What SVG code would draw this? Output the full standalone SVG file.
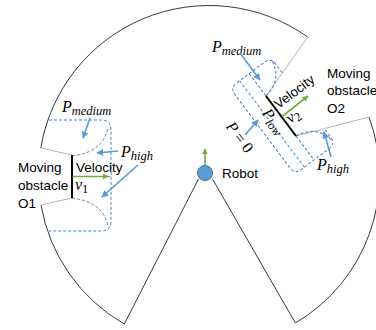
<svg xmlns="http://www.w3.org/2000/svg" width="376" height="330" viewBox="0 0 376 330">
  <defs>
    <marker id="headBlue" viewBox="0 0 10 10" refX="9" refY="5" markerWidth="7" markerHeight="7" markerUnits="userSpaceOnUse" orient="auto">
      <path d="M0,0 L10,5 L0,10 Z" fill="#5B9BD5"/>
    </marker>
    <marker id="headGreen" viewBox="0 0 10 10" refX="9" refY="5" markerWidth="6" markerHeight="6" markerUnits="userSpaceOnUse" orient="auto">
      <path d="M0,0 L10,5 L0,10 Z" fill="#70AD47"/>
    </marker>
  </defs>
  <style>
    .edge { fill: none; stroke: #3a3a3a; stroke-width: 1; }
    .gap { fill: none; stroke: #b4b4b4; stroke-width: 1; }
    .obst { fill: none; stroke: #000; stroke-width: 2; }
    .zone { fill: none; stroke: #4F81BD; stroke-width: 1; stroke-dasharray: 3 2; }
    .ptr { fill: none; stroke: #5B9BD5; stroke-width: 1.6; marker-end: url(#headBlue); }
    .vel { fill: none; stroke: #70AD47; stroke-width: 1.6; marker-end: url(#headGreen); }
    .lbl { font-family: "Liberation Sans", Arial, sans-serif; font-size: 13.5px; fill: #000; }
    .math { font-family: "Liberation Serif", "Times New Roman", serif; font-style: italic; font-size: 16px; fill: #000; }
    .sub { font-size: 12.5px; }
    .up { font-style: normal; }
  </style>

  <!-- sensing range: three arc pieces and the wedge towards the robot -->
  <g id="range">
    <path class="edge" d="M124.3,324 A170.5,170.5 0 0 1 41,205"/>
    <path class="edge" d="M40.8,148 A170.5,170.5 0 0 1 307.7,37"/>
    <path class="edge" d="M369,117 A170.5,170.5 0 0 1 295.4,323"/>
    <path class="edge" d="M198.5,179 L124.3,324"/>
    <path class="edge" d="M212.5,179 L295.4,323"/>
  </g>

  <!-- obstacle O1 -->
  <g id="obstacle-o1">
    <path class="gap" d="M40.8,148 L72,155 M41,205 L72,198"/>
    <path class="zone" d="M49,120 H101 Q111,120 111,130 V221 Q111,231 101,231 H49"/>
    <path class="zone" d="M72,156 Q104,152 108,127"/>
    <path class="zone" d="M72,198 Q104,202 108,227"/>
    <path class="zone" d="M72,176.5 H111"/>
    <line class="obst" x1="72" y1="155" x2="72" y2="198"/>
    <text class="lbl" x="18" y="172">Moving</text>
    <text class="lbl" x="18" y="190">obstacle</text>
    <text class="lbl" x="18" y="208">O1</text>
    <text class="lbl" x="76" y="171.5">Velocity</text>
    <text class="math" x="75" y="190">v<tspan class="sub up" dy="3">1</tspan></text>
    <text class="math" x="62" y="112">P<tspan class="sub" dy="3">medium</tspan></text>
    <text class="math" x="121" y="157">P<tspan class="sub" dy="3">high</tspan></text>
  </g>

  <!-- obstacle O2 (drawn in its own frame: x along the obstacle, y towards the robot) -->
  <g id="obstacle-o2">
    <path class="gap" d="M307.7,37 L266,96 M296,136 L369,117"/>
    <g transform="translate(266,96) rotate(53.13)">
      <path class="zone" d="M-9,-27 H-20 Q-28,-27 -28,-19 V16 Q-28,24 -20,24 H72 Q80,24 80,16 V-19 Q80,-27 72,-27 H61"/>
      <path class="zone" d="M-28,0 H0 M50,0 H80"/>
      <path class="zone" d="M-28,12 H80"/>
      <path class="zone" d="M0,0 Q-3,-22 -24,-26"/>
      <path class="zone" d="M50,0 Q53,-22 74,-26"/>
      <line class="obst" x1="0" y1="0" x2="50" y2="0"/>
      <text class="math" x="11" y="14">P<tspan class="sub" dy="3">low</tspan></text>
      <text class="math" x="0" y="51">P <tspan class="up">= 0</tspan></text>
      <text class="lbl" transform="translate(18,-2) rotate(-90)">Velocity</text>
      <text class="math" transform="translate(37,-3) rotate(-90)">v<tspan class="sub up" dy="3">2</tspan></text>
    </g>
    <text class="lbl" x="327" y="78" font-size="13">Moving</text>
    <text class="lbl" x="327" y="95" font-size="13">obstacle</text>
    <text class="lbl" x="327" y="113" font-size="13">O2</text>
    <text class="math" x="212" y="52">P<tspan class="sub" dy="3">medium</tspan></text>
    <text class="math" x="317" y="170">P<tspan class="sub" dy="3">high</tspan></text>
  </g>

  <!-- robot -->
  <g id="robot">
    <circle cx="205" cy="173" r="7.5" fill="#5B9BD5" stroke="#41719C" stroke-width="1"/>
    <text class="lbl" x="222" y="178">Robot</text>
  </g>

  <!-- pointers and velocity arrows -->
  <g id="connectors">
    <path class="ptr" d="M90,118 L83,138"/>
    <path class="ptr" d="M118,151 L97,153"/>
    <path class="ptr" d="M138,165 L102,197"/>
    <path class="ptr" d="M240,53 L260,80"/>
    <path class="ptr" d="M245,135 L258,120"/>
    <path class="ptr" d="M331,157 L324,132"/>
    <path class="vel" d="M205,165 L205,149"/>
    <path class="vel" d="M72.5,176.5 L108,176.5"/>
    <path class="vel" d="M282.7,116 L308,96"/>
  </g>
</svg>
